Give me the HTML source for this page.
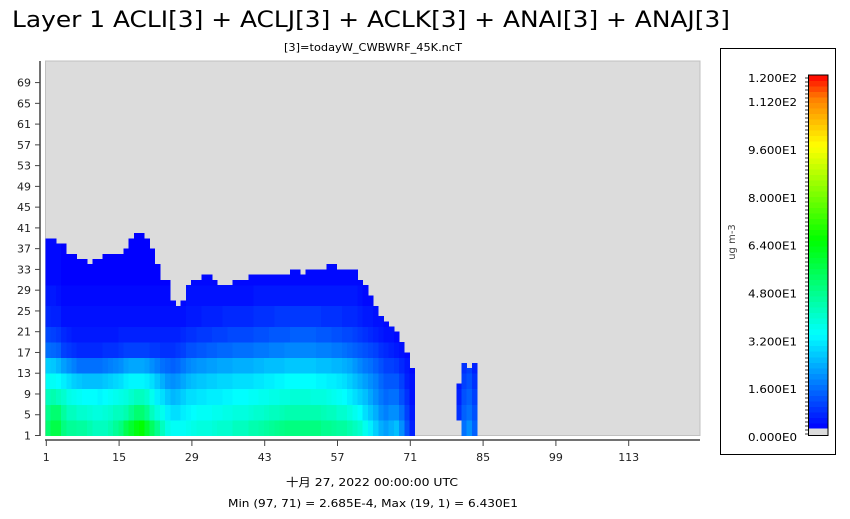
<!DOCTYPE html>
<html><head><meta charset="utf-8">
<style>
html,body{margin:0;padding:0;background:#fff;}
body{width:850px;height:515px;overflow:hidden;font-family:"DejaVu Sans","Noto Sans CJK SC",sans-serif;}
</style></head>
<body>
<svg id="chart" width="850" height="515" xmlns="http://www.w3.org/2000/svg" font-family="DejaVu Sans, Noto Sans CJK SC, sans-serif">
  <text x="12" y="27" font-size="22" textLength="718" lengthAdjust="spacingAndGlyphs" fill="#000">Layer 1 ACLI[3] + ACLJ[3] + ACLK[3] + ANAI[3] + ANAJ[3]</text>
  <text x="284" y="51" font-size="11" textLength="178" lengthAdjust="spacingAndGlyphs" fill="#000">[3]=todayW_CWBWRF_45K.ncT</text>
  <rect x="45.5" y="61" width="654.5" height="374.5" fill="#dcdcdc" stroke="#c0c0c0" stroke-width="1"/>
  <g id="cells" shape-rendering="crispEdges"></g>
  <line x1="40" y1="61" x2="40" y2="436" stroke="#444" stroke-width="1.5"/>
  <line x1="45" y1="440" x2="700" y2="440" stroke="#444" stroke-width="1.5"/>
  <g id="yticks"></g>
  <g id="xticks"></g>
  <text x="286" y="486" font-size="11" textLength="172" lengthAdjust="spacingAndGlyphs" fill="#000">十月 27, 2022 00:00:00 UTC</text>
  <text x="228" y="507" font-size="11" textLength="290" lengthAdjust="spacingAndGlyphs" fill="#000">Min (97, 71) = 2.685E-4, Max (19, 1) = 6.430E1</text>
  <rect x="720.5" y="48.5" width="115" height="406" fill="#fff" stroke="#000" stroke-width="1"/>
  <text x="0" y="0" font-size="10" fill="#444" text-anchor="middle" transform="translate(735,242) rotate(-90)">ug m-3</text>
  <g id="cbar" shape-rendering="crispEdges"></g>
  <g id="cticks"></g>
</svg>
<script>
// ---- data ----
const xTickLabels = [1, 15, 29, 43, 57, 71, 85, 99, 113];
const yTickLabels = [1, 5, 9, 13, 17, 21, 25, 29, 33, 37, 41, 45, 49, 53, 57, 61, 65, 69];
const cbarLabels = [0, 16, 32, 48, 64, 80, 96, 112, 120];
const cbarLabelText = ["0.000E0","1.600E1","3.200E1","4.800E1","6.400E1","8.000E1","9.600E1","1.120E2","1.200E2"];
const topRow = [38,38,37,37,35,35,34,34,33,34,34,35,35,35,35,36,38,39,39,38,36,33,30,30,26,25,26,29,30,30,31,31,30,29,29,29,30,30,30,31,31,31,31,31,31,31,31,32,32,31,32,32,32,32,33,33,32,32,32,32,30,29,27,25,23,22,21,20,18,16,13,0,0,0,0,0,0,0,0,10,14,13,14,0];
const bottomRow = [1,1,1,1,1,1,1,1,1,1,1,1,1,1,1,1,1,1,1,1,1,1,1,1,1,1,1,1,1,1,1,1,1,1,1,1,1,1,1,1,1,1,1,1,1,1,1,1,1,1,1,1,1,1,1,1,1,1,1,1,1,1,1,1,1,1,1,1,1,1,1,1,1,1,1,1,1,1,1,4,1,1,1,1];
const levelRows = [1, 4, 7, 10, 13, 16, 19, 22, 26, 30, 35];
const lv1 = [50,55,55, 48,45,45,44,44, 42,40,40,40,42, 45,48, 54,58,62,64,58,52,46, 40,35,33,33,33, 34,35,36,36,36,37,38,38,38,40,40,40,42, 42,43,44,45,46,47,48,48,48,48,48,48,48,46,46,45,44,44,42,40, 38,34,30,26,22,20,22,24,18,10,4, 0,0,0,0,0,0,0,0, 8,14,18,12, 0];
const lv4 = [46,50,50, 44,40,40,38,38, 37,36,36,37,38, 40,40, 42,46,50,50,46,40,36, 34,30,28,28,30, 31,32,33,33,33,34,34,35,35,36,36,36,37, 38,38,39,40,40,41,42,42,42,42,42,42,42,41,40,40,38,38,36,34, 32,28,25,22,18,16,18,18,14,8,3, 0,0,0,0,0,0,0,0, 6,12,14,10, 0];
const lv7 = [40,42,40, 38,35,34,33,32, 32,32,31,32,33, 34,35, 36,38,40,40,38,34,30, 28,25,23,24,26, 28,28,29,29,30,30,30,31,31,32,32,32,33, 33,34,34,35,35,36,36,37,37,37,37,36,36,36,35,34,33,32,30,28, 26,24,21,18,15,13,14,14,10,6,2, 0,0,0,0,0,0,0,0, 4,10,12,8, 0];
const lv10 = [33,33,32, 30,28,26,25,24, 24,24,24,25,26, 27,28, 30,31,31,31,30,28,25, 22,19,18,19,21, 23,24,25,25,26,26,27,27,27,28,28,28,28, 29,29,30,30,31,31,32,32,32,32,32,32,31,31,30,30,29,28,26,24, 22,20,18,16,13,11,11,11,8,4,2, 0,0,0,0,0,0,0,0, 3,8,10,6, 0];
const lv13 = [26,25,23, 20,18,16,14,14, 14,14,14,15,16, 17,18, 20,21,21,21,20,18,16, 14,13,12,13,15, 17,18,19,19,20,20,21,21,21,22,22,22,22, 23,23,24,24,24,24,25,25,25,25,25,25,24,24,24,23,23,22,21,19, 17,15,14,12,10,8,8,7,5,3,1, 0,0,0,0,0,0,0,0, 2,6,8,4, 0];
const lv16 = [14,13,12, 8,7,6,5,5, 5,5,5,6,6, 6,7, 8,8,8,8,8,7,7, 6,6,6,7,8, 10,10,11,11,12,12,13,13,13,14,14,14,14, 15,15,15,16,16,16,17,17,17,17,17,17,16,16,16,15,15,14,13,12, 11,10,9,8,6,5,4,3,2,1,0, 0,0,0,0,0,0,0,0, 1,3,4,2, 0];
const lv19 = [9,8,7, 5,4,3,3,3, 3,3,3,3,3, 3,4, 4,4,4,4,4,4,4, 4,4,4,4,5, 6,6,7,7,7,8,8,8,9,9,9,9,9, 10,10,10,11,11,11,11,12,12,12,12,12,11,11,11,10,10,9,9,8, 7,6,5,4,3,2,2,1,1,0,0, 0,0,0,0,0,0,0,0, 1,1,1,1, 0];
const lv22 = [5,4,4, 2,2,2,2,2, 2,2,2,2,2, 2,2, 2,2,2,2,2,2,2, 2,2,2,2,2, 3,3,3,4,4,4,4,5,5,5,5,5,5, 6,6,6,6,7,7,7,7,7,7,7,7,7,6,6,6,6,5,5,5, 4,3,3,2,2,1,1,1,0,0,0, 0,0,0,0,0,0,0,0, 1,1,1,1, 0];
const lv26 = [3,3,2, 1,1,1,1,1, 1,1,1,1,1, 1,1, 1,1,1,1,1,1,1, 1,1,1,1,1, 2,2,2,2,2,2,2,2,2,2,2,2,2, 3,3,3,3,3,3,3,3,3,3,3,3,3,3,3,3,3,3,3,3, 2,1,1,1,1,1,1,1,0,0,0, 0,0,0,0,0,0,0,0, 0,0,0,0, 0];
const lv30 = [1,1,1, 0,0,0,0,0, 0,0,0,0,0, 0,0, 0,0,0,0,0,0,0, 0,0,0,0,0, 1,1,1,1,1,1,1,1,1,1,1,1,1, 1,1,1,1,1,1,1,1,1,1,1,1,1,1,1,1,1,1,1,1, 1,0,0,0,0,0,0,0,0,0,0, 0,0,0,0,0,0,0,0, 0,0,0,0, 0];
const lv35 = [1,1,1, 0,0,0,0,0, 0,0,0,0,0, 0,0, 0,0,0,0,0,0,0, 0,0,0,0,0, 0,0,0,0,0,0,0,0,0,0,0,0,0, 0,0,0,0,0,0,0,0,0,0,0,0,0,0,0,0,0,0,0,0, 0,0,0,0,0,0,0,0,0,0,0, 0,0,0,0,0,0,0,0, 0,0,0,0, 0];
const levels = [lv1, lv4, lv7, lv10, lv13, lv16, lv19, lv22, lv26, lv30, lv35];

// ---- scales ----
const X0 = 45.5, CW = 5.2, Y0 = 435.5, RH = 5.19;
function xCol(c){ return X0 + (c - 1) * CW; }
function yRow(r){ return Y0 - r * RH; }
const VMAX = 120, CB_TOP = 75, CB_BOT = 428.7;
function yCbar(v){ return CB_BOT - (v / VMAX) * (CB_BOT - CB_TOP); }
function yCbarLabel(v){ return 437 - v * 2.99; }
const stops = [[0,[0,0,255]],[32,[0,255,255]],[64,[0,255,0]],[96,[255,255,0]],[112,[255,128,0]],[120,[255,0,0]]];
function color(v){
  v = Math.max(0, Math.min(VMAX, v));
  for (let i = 1; i < stops.length; i++) {
    if (v <= stops[i][0]) {
      const a = stops[i-1], b = stops[i], t = (v - a[0]) / (b[0] - a[0]);
      const c = a[1].map((x, k) => Math.round(x + (b[1][k] - x) * t));
      return `rgb(${c[0]},${c[1]},${c[2]})`;
    }
  }
  return 'rgb(255,0,0)';
}
const NS = 'http://www.w3.org/2000/svg';
function mk(tag, attrs, parent){ const e = document.createElementNS(NS, tag); for (const k in attrs) e.setAttribute(k, attrs[k]); parent.appendChild(e); return e; }

// ---- heatmap cells ----
const cells = document.getElementById('cells');
for (let c = 1; c <= topRow.length; c++) {
  const top = topRow[c-1];
  for (let r = bottomRow[c-1]; r <= top; r++) {
    let li = 0;
    for (let k = 0; k < levelRows.length; k++) if (r >= levelRows[k]) li = k;
    const v = levels[li][c-1];
    const rect = mk('rect', {x: xCol(c).toFixed(2), y: yRow(r).toFixed(2), width: (CW + 0.4).toFixed(2), height: (RH + 0.4).toFixed(2), fill: color(v)}, cells);
    
    
  }
}

// ---- y ticks ----
const yt = document.getElementById('yticks');
yTickLabels.forEach(r => {
  const y = Y0 - (r - 1) * RH;
  const l = mk('line', {x1: 35, y1: y, x2: 40, y2: y, stroke: '#444'}, yt);
  
  
  const t = mk('text', {x: 31, y: y + 4, 'font-size': 11, 'text-anchor': 'end', fill: '#222'}, yt);
  t.textContent = r;
  
  
});
// ---- x ticks ----
const xt = document.getElementById('xticks');
xTickLabels.forEach(c => {
  const x = xCol(c) + 0.8;
  const l = mk('line', {x1: x, y1: 440, x2: x, y2: 446, stroke: '#444'}, xt);
  
  
  const t = mk('text', {x: x, y: 461, 'font-size': 11, 'text-anchor': 'middle', fill: '#222'}, xt);
  t.textContent = c;
  
  
});

// ---- colorbar ----
const cb = document.getElementById('cbar');
const NSEG = 64;
for (let i = 0; i < NSEG; i++) {
  const v0 = i * VMAX / NSEG, v1 = (i + 1) * VMAX / NSEG;
  const r = mk('rect', {x: 809, y: yCbar(v1).toFixed(2), width: 19, height: (yCbar(v0) - yCbar(v1) + 0.4).toFixed(2), fill: color((v0 + v1) / 2)}, cb);
  
  
}
const gr = mk('rect', {x: 809, y: CB_BOT, width: 19, height: 7, fill: '#dcdcdc'}, cb);


const fr = mk('rect', {x: 808.5, y: 75, width: 19.5, height: 360.7, fill: 'none', stroke: '#000'}, cb);


const ct = document.getElementById('cticks');
for (let y = 78; y <= 436; y += 4) {
  const m = mk('line', {x1: 805, y1: y, x2: 808, y2: y, stroke: '#000', 'stroke-width': 0.8}, ct);
  
  
}
cbarLabels.forEach((v, i) => {
  const y = yCbarLabel(v);
  const t = mk('text', {x: 748, y: y + 4, 'font-size': 11, textLength: 49, lengthAdjust: 'spacingAndGlyphs', fill: '#000'}, ct);
  t.textContent = cbarLabelText[i];
  
  
});
</script>
</body></html>
